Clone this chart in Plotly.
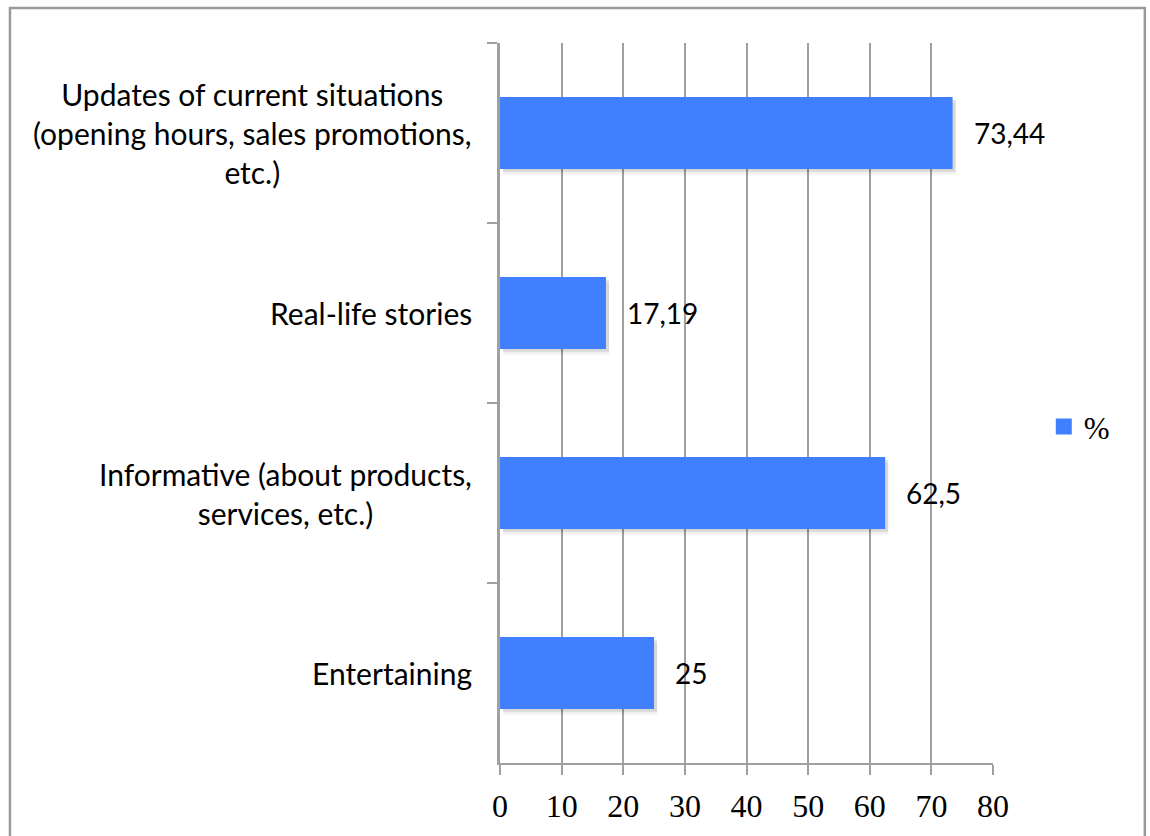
import plotly.graph_objects as go

# Survey results: preferred post content types (% of respondents)
categories = [
    "Updates of current situations<br>(opening hours, sales promotions,<br>etc.)",
    "Real-life stories",
    "Informative (about products,<br>services, etc.)",
    "Entertaining",
]
values = [73.44, 17.19, 62.5, 25]
series_name = "%"
x_ticks = [0, 10, 20, 30, 40, 50, 60, 70, 80]

BAR = "#4080FF"
GRID = "#A0A0A0"
SANS = "Lato"
SERIF = "Liberation Serif"

fig = go.Figure()

# soft drop shadow under each bar
for off, alpha in [(-0.17, 0.06), (-0.185, 0.10)]:
    fig.add_trace(go.Bar(
        x=values, y=categories, orientation="h", base=0.5,
        width=0.4, offset=off,
        marker=dict(color=f"rgba(0,0,0,{alpha})", line=dict(width=0)),
        showlegend=False, hoverinfo="skip",
    ))

fig.add_trace(go.Bar(
    x=values, y=categories, orientation="h",
    width=0.4, offset=-0.2,
    marker=dict(color=BAR, line=dict(width=0)),
    name=series_name, showlegend=False,
))

# legend entry with a larger square swatch
fig.add_trace(go.Scatter(
    x=[None], y=[None], mode="markers", name=series_name,
    marker=dict(symbol="square", size=17, color=BAR),
    showlegend=True,
))

# value labels with decimal commas
for v, c in zip(values, categories):
    fig.add_annotation(
        x=v, y=c, text=f"{v:g}".replace(".", ","),
        xanchor="left", yanchor="middle", xshift=19, showarrow=False,
        font=dict(family=SANS, size=28, color="#000000"),
    )

# category labels: block right-aligned to the axis, lines centred
for c in categories:
    fig.add_annotation(
        x=0, y=c, xref="paper", yref="y", text=c,
        xanchor="right", yanchor="middle", align="center",
        xshift=-26, showarrow=False,
        font=dict(family=SANS, size=30, color="#000000"),
    )

# outer frame
fig.add_shape(
    type="rect", xref="paper", yref="paper",
    x0=-0.994, x1=1.308, y0=-0.2, y1=1.0485,
    line=dict(color="#9A9A9A", width=2.5), fillcolor="rgba(0,0,0,0)",
    layer="below",
)

fig.update_layout(
    width=1150, height=836,
    margin=dict(l=500, r=157, t=43, b=71),
    paper_bgcolor="white", plot_bgcolor="white",
    barmode="overlay",
    legend=dict(
        x=1.103, y=0.467, xanchor="left", yanchor="middle",
        font=dict(family=SERIF, size=31, color="#000000"),
        bgcolor="rgba(0,0,0,0)",
    ),
)

fig.update_xaxes(
    range=[0, 80], tickvals=x_ticks,
    showgrid=True, gridcolor=GRID, gridwidth=2,
    showline=True, linecolor=GRID, linewidth=2,
    ticks="outside", ticklen=10, tickcolor=GRID, tickwidth=2,
    zeroline=False, ticklabelstandoff=4,
    tickfont=dict(family=SERIF, size=32, color="#000000"),
)

fig.update_yaxes(
    type="category", autorange="reversed",
    showgrid=False, showticklabels=False,
    showline=True, linecolor=GRID, linewidth=2.5,
    ticks="outside", ticklen=10, tickcolor=GRID, tickwidth=2,
    tickson="boundaries",
)

fig.write_html("out.html")
